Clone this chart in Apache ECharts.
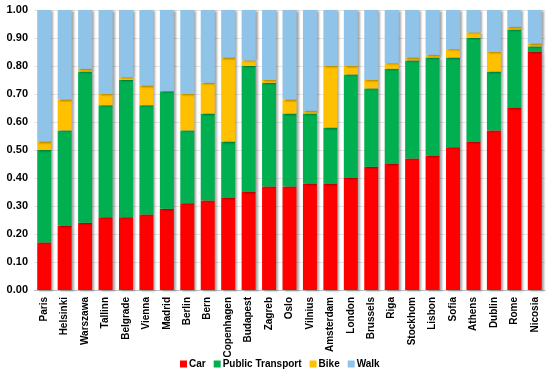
<!DOCTYPE html>
<html><head><meta charset="utf-8">
<script src="https://cdn.jsdelivr.net/npm/echarts@6/dist/echarts.min.js"></script>
<style>html,body{margin:0;padding:0;background:#fff}#c{width:550px;height:377px}</style>
</head><body><div id="c"></div>
<script>
const cities = ['Paris','Helsinki','Warszawa','Tallinn','Belgrade','Vienna','Madrid','Berlin','Bern','Copenhagen','Budapest','Zagreb','Oslo','Vilnius','Amsterdam','London','Brussels','Riga','Stockhom','Lisbon','Sofia','Athens','Dublin','Rome','Nicosia'];
const car  = [0.17,0.23,0.24,0.26,0.26,0.27,0.29,0.31,0.32,0.33,0.35,0.37,0.37,0.38,0.38,0.40,0.44,0.45,0.47,0.48,0.51,0.53,0.57,0.65,0.85];
const publicTransport = [0.33,0.34,0.54,0.40,0.49,0.39,0.42,0.26,0.31,0.20,0.45,0.37,0.26,0.25,0.20,0.37,0.28,0.34,0.35,0.35,0.32,0.37,0.21,0.28,0.02];
const bike = [0.03,0.11,0.01,0.04,0.01,0.07,0.00,0.13,0.11,0.30,0.02,0.01,0.05,0.01,0.22,0.03,0.03,0.02,0.01,0.01,0.03,0.02,0.07,0.01,0.01];
const walk = [0.47,0.32,0.21,0.30,0.24,0.27,0.29,0.30,0.26,0.17,0.18,0.25,0.32,0.36,0.20,0.20,0.25,0.19,0.17,0.16,0.14,0.08,0.15,0.06,0.12];
const yTicks = [0,0.1,0.2,0.3,0.4,0.5,0.6,0.7,0.8,0.9,1.0];

const font = 'Liberation Sans, Arial, sans-serif';
const shadow = {shadowColor:'rgba(0,0,0,0.35)', shadowOffsetX:2, shadowOffsetY:1, shadowBlur:2};
function s(name, data, color){
  return {name, type:'bar', stack:'t', data, barWidth:14,
    itemStyle:Object.assign({color}, shadow)};
}
const chart = echarts.init(document.getElementById('c'), null, {renderer:'canvas'});
chart.setOption({
  animation:false,
  grid:{left:34, right:5, top:10, bottom:87},
  legend:{bottom:3, left:175, itemWidth:7, itemHeight:7, itemGap:8,
    icon:'rect',
    textStyle:{fontFamily:font, fontWeight:'bold', fontSize:10, color:'#000', padding:[0,0,0,-3]},
    data:['Car','Public Transport','Bike','Walk']},
  xAxis:{type:'category', data:cities,
    axisLine:{lineStyle:{color:'#bfbfbf'}}, axisTick:{show:false},
    axisLabel:{rotate:90, interval:0, fontFamily:font, fontWeight:'bold', fontSize:10, color:'#000', margin:7}},
  yAxis:{type:'value', min:0, max:1, interval:0.1,
    axisLine:{show:false}, axisTick:{show:false},
    splitLine:{lineStyle:{color:'#e6e6e6'}},
    axisLabel:{formatter:v=>v.toFixed(2), fontFamily:font, fontWeight:'bold', fontSize:11, color:'#000', margin:6}},
  series:[
    s('Car', car, '#ff0000'),
    s('Public Transport', publicTransport, '#00b050'),
    s('Bike', bike, '#ffc000'),
    s('Walk', walk, '#8fc3e8')
  ]
});
</script></body></html>
